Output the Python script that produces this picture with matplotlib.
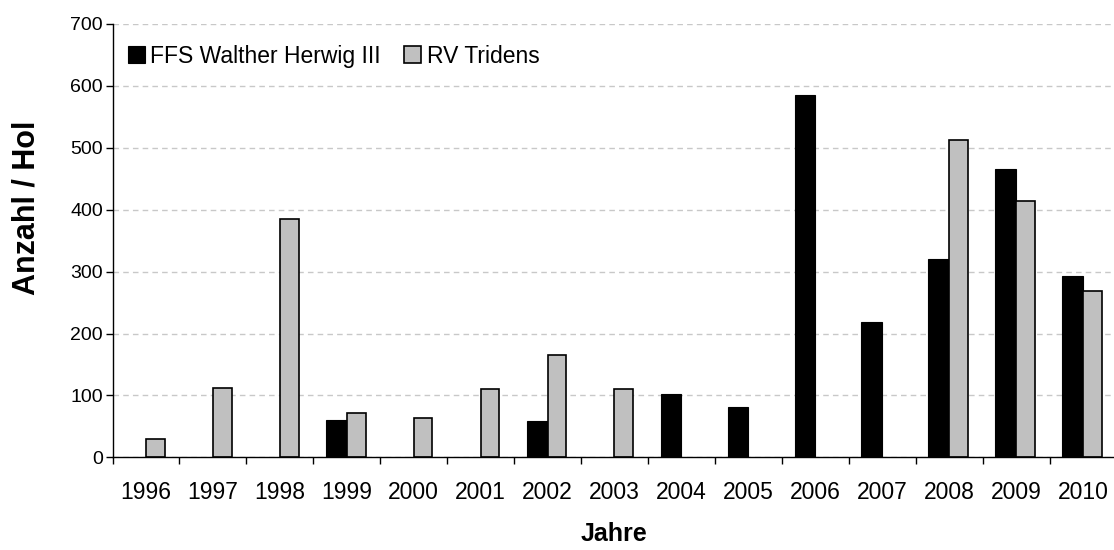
import matplotlib.pyplot as plt
import numpy as np

plt.rcParams['font.family'] = ['Liberation Sans', 'DejaVu Sans']

years = ['1996', '1997', '1998', '1999', '2000', '2001', '2002', '2003',
         '2004', '2005', '2006', '2007', '2008', '2009', '2010']
herwig = np.array([np.nan, np.nan, np.nan, 61, np.nan, np.nan, 59, np.nan,
                   102, 82, 585, 218, 321, 466, 293])
tridens = np.array([29, 112, 385, 72, 64, 110, 165, 110,
                    np.nan, np.nan, np.nan, np.nan, 513, 414, 269])

fig = plt.figure(figsize=(11.14, 5.5), dpi=100)
ax = fig.add_axes([0.101, 0.1685, 0.9012, 0.7879])

pos = np.arange(len(years))
ax.bar(pos, herwig, width=-0.31, align='edge', color='black',
       edgecolor='black', linewidth=0.8, label='FFS Walther Herwig III', zorder=3)
ax.bar(pos, tridens, width=0.28, align='edge', color='#c0c0c0',
       edgecolor='black', linewidth=1.2, label='RV Tridens', zorder=3)

ax.set_xlim(-0.5, len(years) - 0.5)
ax.set_ylim(0, 700)
ax.set_yticks(np.arange(0, 701, 100))

# year labels in the middle, tick marks on the category borders
ax.set_xticks(pos)
ax.set_xticklabels(years, fontsize=16.5)
ax.set_xticks(np.arange(-0.5, len(years), 1.0), minor=True)
ax.tick_params(axis='x', which='major', length=0, pad=17)
ax.tick_params(axis='x', which='minor', length=5, width=1, direction='out')
ax.tick_params(axis='y', labelsize=14, length=5, width=1, pad=2)

ax.grid(axis='y', color='#c8c8c8', linestyle=(0, (4, 3)), linewidth=1)
ax.set_axisbelow(True)

for s in ['top', 'right']:
    ax.spines[s].set_visible(False)
for s in ['left', 'bottom']:
    ax.spines[s].set_color('black')
    ax.spines[s].set_linewidth(1)
    ax.spines[s].set_zorder(4)

ax.set_xlabel('Jahre', fontsize=18, fontweight='bold', labelpad=13)
fig.text(26.5 / 1114, 1 - 208 / 550, 'Anzahl / Hol', rotation=90,
         fontsize=22, fontweight='bold', ha='center', va='center')

ax.legend(loc='center left', bbox_to_anchor=(0.015, 0.926), ncol=2,
          frameon=False, fontsize=16.5, handlelength=0.75, handleheight=0.75,
          handletextpad=0.25, columnspacing=1.0, borderpad=0, borderaxespad=0)

fig.savefig('out.png', dpi=100)
